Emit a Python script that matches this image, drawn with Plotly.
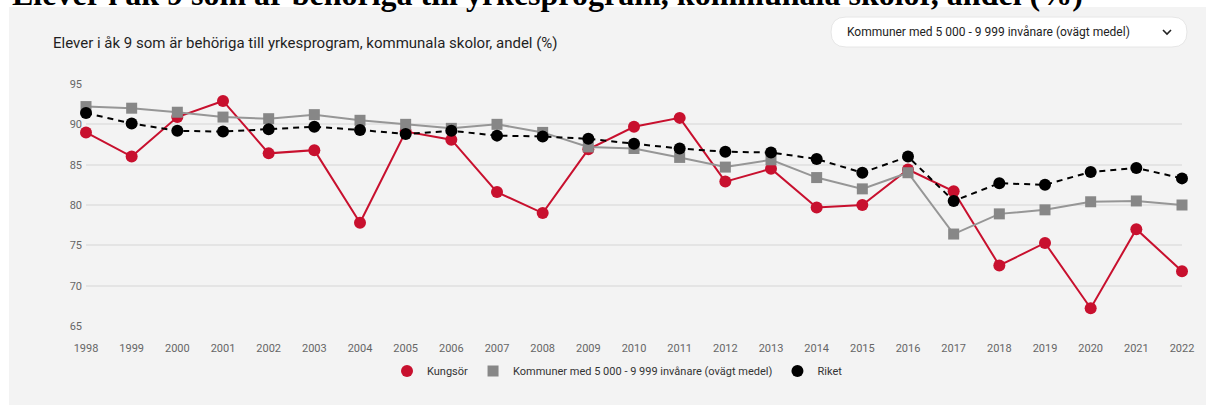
import plotly.graph_objects as go

years = list(range(1998, 2023))
kungsor = [89.0, 86.0, 90.9, 92.9, 86.4, 86.8, 77.8, 89.1, 88.1, 81.6, 79.0, 86.9, 89.7, 90.8,
           82.9, 84.5, 79.7, 80.0, 84.4, 81.7, 72.5, 75.3, 67.2, 77.0, 71.8]
kommuner = [92.2, 92.0, 91.5, 90.9, 90.7, 91.2, 90.5, 90.0, 89.5, 90.0, 89.0, 87.2, 87.0, 85.9,
            84.7, 85.6, 83.4, 82.0, 84.0, 76.4, 78.9, 79.4, 80.4, 80.5, 80.0]
riket = [91.4, 90.1, 89.2, 89.1, 89.4, 89.7, 89.3, 88.8, 89.2, 88.6, 88.5, 88.2, 87.6, 87.0,
         86.6, 86.5, 85.7, 84.0, 86.0, 80.5, 82.7, 82.5, 84.1, 84.6, 83.3]
y_ticks = [65, 70, 75, 80, 85, 90, 95]

series_names = ["Kungsör", "Kommuner med 5 000 - 9 999 invånare (ovägt medel)", "Riket"]
title_text = "Elever i åk 9 som är behöriga till yrkesprogram, kommunala skolor, andel (%)"

W, H = 1206, 405
ML, MR, MT, MB = 86, 24, 84, 79
PW, PH = W - ML - MR, H - MT - MB


def px_x(p):
    return (p - ML) / PW


def px_y(p):
    return (H - MB - p) / PH


styles = [
    dict(line=dict(color="#c8102e", width=2), marker=dict(symbol="circle", size=12, color="#c8102e")),
    dict(line=dict(color="#969696", width=2), marker=dict(symbol="square", size=11, color="#878787")),
    dict(line=dict(color="#000000", width=2, dash="6px,5px"), marker=dict(symbol="circle", size=12, color="#000000")),
]

fig = go.Figure()
for name, vals, st in zip(series_names, [kungsor, kommuner, riket], styles):
    fig.add_trace(go.Scatter(x=years, y=vals, name=name, mode="lines", line=st["line"],
                             showlegend=False, legendgroup=name, cliponaxis=False, hoverinfo="skip"))
    fig.add_trace(go.Scatter(x=years, y=vals, name=name, mode="markers", marker=st["marker"],
                             showlegend=True, legendgroup=name, cliponaxis=False))

shapes = []
# dropdown (rounded rectangle)
x0, x1, y0, y1, r = 831, 1187, 17, 47, 15
rx, ry = r / PW, r / PH
X0, X1, Ytop, Ybot = px_x(x0), px_x(x1), px_y(y0), px_y(y1)
path = (f"M {X0+rx},{Ytop} L {X1-rx},{Ytop} Q {X1},{Ytop} {X1},{Ytop-ry} "
        f"L {X1},{Ybot+ry} Q {X1},{Ybot} {X1-rx},{Ybot} L {X0+rx},{Ybot} "
        f"Q {X0},{Ybot} {X0},{Ybot+ry} L {X0},{Ytop-ry} Q {X0},{Ytop} {X0+rx},{Ytop} Z")
shapes.append(dict(type="path", xref="paper", yref="paper", path=path,
                   fillcolor="white", line=dict(color="#e6e6e6", width=1)))
# chevron
cx, cy = 1167, 32
shapes.append(dict(type="path", xref="paper", yref="paper",
                   path=f"M {px_x(cx-4)},{px_y(cy-2)} L {px_x(cx)},{px_y(cy+2)} L {px_x(cx+4)},{px_y(cy-2)}",
                   line=dict(color="#222222", width=1.6)))
# white strips outside the grey panel
shapes.append(dict(type="rect", xref="paper", yref="paper", x0=-0.2, x1=1.2,
                   y0=px_y(7), y1=px_y(-10), fillcolor="white", line=dict(width=0), layer="below"))
shapes.append(dict(type="rect", xref="paper", yref="paper", x0=-0.2, x1=px_x(9),
                   y0=px_y(420), y1=px_y(-10), fillcolor="white", line=dict(width=0), layer="below"))

annotations = [
    dict(text="<b>" + title_text + "</b>", xref="paper", yref="paper", x=px_x(10), y=px_y(-6),
         xanchor="left", yanchor="middle", showarrow=False,
         font=dict(family="Liberation Serif, Times New Roman, serif", size=32, color="#000000")),
    dict(text=title_text, xref="paper", yref="paper", x=px_x(51), y=px_y(43),
         xanchor="left", yanchor="middle", showarrow=False,
         font=dict(family="Roboto, sans-serif", size=15, color="#1f1f1f")),
    dict(text=series_names[1], xref="paper", yref="paper", x=px_x(845), y=px_y(32),
         xanchor="left", yanchor="middle", showarrow=False,
         font=dict(family="Roboto, sans-serif", size=12, color="#222222")),
]

fig.update_layout(
    width=W, height=H,
    margin=dict(l=ML, r=MR, t=MT, b=MB, pad=0),
    paper_bgcolor="#f3f3f3", plot_bgcolor="#f3f3f3",
    shapes=shapes, annotations=annotations,
    font=dict(family="Roboto, sans-serif", size=11, color="#555555"),
    showlegend=True,
    legend=dict(orientation="h", x=px_x(387), xanchor="left", y=px_y(371), yanchor="middle",
                font=dict(family="Roboto, sans-serif", size=11, color="#333333"),
                itemwidth=30, bgcolor="rgba(0,0,0,0)", tracegroupgap=0),
    xaxis=dict(range=[1998, 2022], tickmode="array", tickvals=years,
               ticktext=[str(y) for y in years], showgrid=False, zeroline=False,
               showline=False, ticks="", ticklabelstandoff=14,
               tickfont=dict(family="Roboto, sans-serif", size=11, color="#666666")),
    yaxis=dict(range=[65, 95], tickmode="array", tickvals=y_ticks,
               ticktext=[str(v) for v in y_ticks], showgrid=True, gridcolor="#e4e4e4",
               gridwidth=1.5, zeroline=False, showline=False, ticks="", ticklabelstandoff=3,
               tickfont=dict(family="Roboto, sans-serif", size=11, color="#666666")),
)

fig.write_html("out.html", config={"displayModeBar": False},
               post_script="document.body.style.margin='0';")
